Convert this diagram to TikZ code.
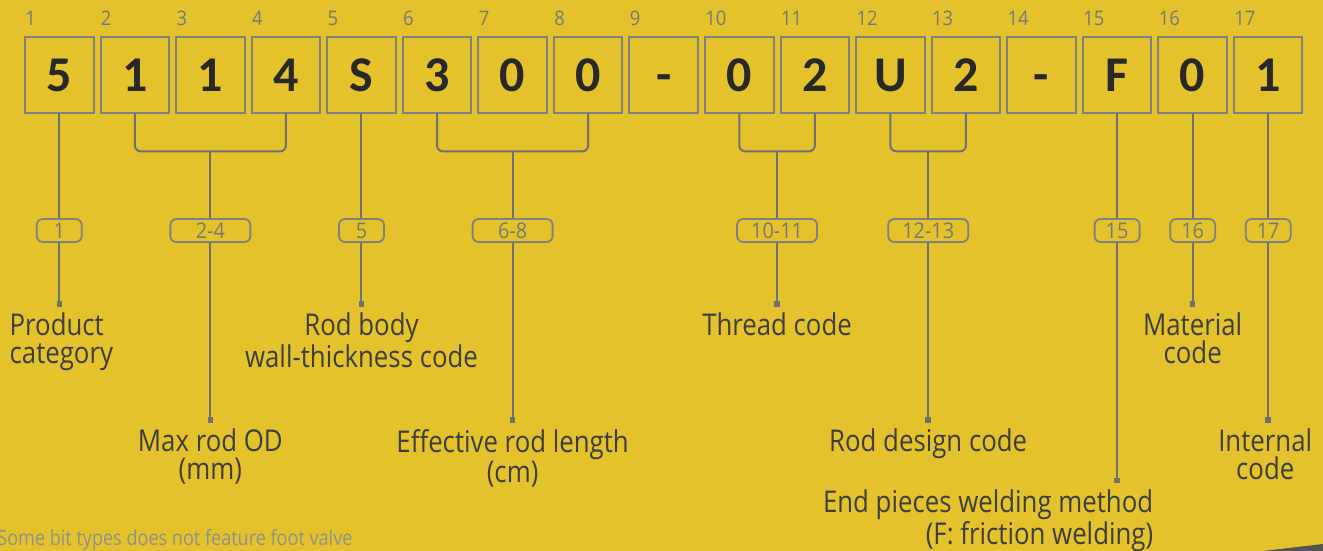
\documentclass[tikz,border=0pt]{standalone}
\usepackage{fontspec}
\usepackage{tikz}
\usetikzlibrary{positioning,calc}
\newfontfamily\cellfont{Carlito}
\newfontfamily\capfont[FakeStretch=0.86]{Open Sans}
\newfontfamily\tagfont[FakeStretch=0.92]{Open Sans}
\definecolor{bgyellow}{RGB}{228,194,44}
\definecolor{boxgrey}{RGB}{128,128,128}
\definecolor{linegrey}{RGB}{112,112,112}
\definecolor{softgrey}{RGB}{120,120,120}
\definecolor{notegrey}{RGB}{145,145,140}
\definecolor{ink}{RGB}{62,62,62}
\definecolor{cellink}{RGB}{40,40,40}
\definecolor{wedgegrey}{RGB}{85,85,85}

\begin{document}
\begin{tikzpicture}[x=0.5pt, y=-0.5pt, node distance=3.53pt,
  cell/.style={draw=boxgrey, line width=1pt, minimum width=34.25pt, minimum height=38pt, inner sep=0pt, outer sep=0pt, text height=16.1pt, text depth=0pt, text=cellink, font=\cellfont\bfseries\fontsize{25}{25}\selectfont},
  idx/.style={anchor=south west, inner sep=0pt, yshift=5.75pt, text=softgrey, font=\tagfont\fontsize{10}{10}\selectfont},
  tag/.style={draw=boxgrey, line width=0.9pt, rounded corners=3pt, minimum width=22.5pt, minimum height=11.5pt, inner sep=0pt, text=softgrey, font=\tagfont\fontsize{10.8}{11}\selectfont},
  widetag/.style={tag, minimum width=40pt},
  lead/.style={draw=linegrey, line width=1pt},
  bracket/.style={lead, rounded corners=3pt},
  pinbox/.style={fill=linegrey, minimum size=2.75pt, inner sep=0pt, outer sep=0pt},
  caption/.style={align=center, inner sep=0pt, text=ink, font=\capfont\fontsize{15}{13.7}\selectfont}]
\fill[bgyellow] (0,0) rectangle (1323,551);
\useasboundingbox (0,0) rectangle (1323,551);

% code cells
\node[cell, label={[idx]north west:1}] (b1) at (59.25,75.4) {5};
\node[cell, label={[idx]north west:2}, right=of b1] (b2) {1};
\node[cell, label={[idx]north west:3}, right=of b2] (b3) {1};
\node[cell, label={[idx]north west:4}, right=of b3] (b4) {4};
\node[cell, label={[idx]north west:5}, right=of b4] (b5) {S};
\node[cell, label={[idx]north west:6}, right=of b5] (b6) {3};
\node[cell, label={[idx]north west:7}, right=of b6] (b7) {0};
\node[cell, label={[idx]north west:8}, right=of b7] (b8) {0};
\node[cell, label={[idx]north west:9}, right=of b8] (b9) {-};
\node[cell, label={[idx]north west:10}, right=of b9] (b10) {0};
\node[cell, label={[idx]north west:11}, right=of b10] (b11) {2};
\node[cell, label={[idx]north west:12}, right=of b11] (b12) {U};
\node[cell, label={[idx]north west:13}, right=of b12] (b13) {2};
\node[cell, label={[idx]north west:14}, right=of b13] (b14) {-};
\node[cell, label={[idx]north west:15}, right=of b14] (b15) {F};
\node[cell, label={[idx]north west:16}, right=of b15] (b16) {0};
\node[cell, label={[idx]north west:17}, right=of b16] (b17) {1};

% rows
\coordinate (tagrow) at (0,230.5);
\coordinate (pinhi) at (0,304);
\coordinate (pinlo) at (0,420);
\coordinate (pinbot) at (0,480.5);

% bracket joints
\path ($(b2.south)!.5!(b4.south)$) ++(0,38) coordinate (j24);
\path ($(b6.south)!.5!(b8.south)$) ++(0,38) coordinate (j68);
\path ($(b10.south)!.5!(b11.south)$) ++(0,38) coordinate (j1011);
\path ($(b12.south)!.5!(b13.south)$) ++(0,38) coordinate (j1213);

% position tags
\node[tag] (t1) at (b1 |- tagrow) {1};
\node[widetag] (t24) at (j24 |- tagrow) {2-4};
\node[tag] (t5) at (b5 |- tagrow) {5};
\node[widetag] (t68) at (j68 |- tagrow) {6-8};
\node[widetag] (t1011) at (j1011 |- tagrow) {10-11};
\node[widetag] (t1213) at (j1213 |- tagrow) {12-13};
\node[tag] (t15) at (b15 |- tagrow) {15};
\node[tag] (t16) at (b16 |- tagrow) {16};
\node[tag] (t17) at (b17 |- tagrow) {17};

% end markers
\node[pinbox] (m1) at (t1 |- pinhi) {};
\node[pinbox] (m24) at (t24 |- pinlo) {};
\node[pinbox] (m5) at (t5 |- pinhi) {};
\node[pinbox] (m68) at (t68 |- pinlo) {};
\node[pinbox] (m1011) at (t1011 |- pinhi) {};
\node[pinbox] (m1213) at (t1213 |- pinlo) {};
\node[pinbox] (m15) at (t15 |- pinbot) {};
\node[pinbox] (m16) at (t16 |- pinhi) {};
\node[pinbox] (m17) at (t17 |- pinlo) {};

% captions
\node[caption, below=3pt of m1, anchor=north west, xshift=-25pt, align=left] (c1) {Product\\category};
\node[caption, below=3pt of m24] (c24) {Max rod OD\\(mm)};
\node[caption, below=3pt of m5] (c5) {Rod body\\wall-thickness code};
\node[caption, below=3pt of m68] (c68) {Effective rod length\\(cm)};
\node[caption, below=3pt of m1011] (c1011) {Thread code};
\node[caption, below=3pt of m1213] (c1213) {Rod design code};
\node[caption, below=3pt of m15, anchor=north east, xshift=18.25pt, align=right] (c15) {End pieces welding method\\(F: friction welding)};
\node[caption, below=3pt of m16] (c16) {Material\\code};
\node[caption, below=3pt of m17, xshift=-1.5pt] (c17) {Internal\\code};

% leads
\draw[lead] (b1) -- (t1) -- (m1);
\draw[bracket] (b2.south) |- (j24) -| (b4.south);
\draw[lead] (j24) -- (t24) -- (m24);
\draw[lead] (b5) -- (t5) -- (m5);
\draw[bracket] (b6.south) |- (j68) -| (b8.south);
\draw[lead] (j68) -- (t68) -- (m68);
\draw[bracket] (b10.south) |- (j1011) -| (b11.south);
\draw[lead] (j1011) -- (t1011) -- (m1011);
\draw[bracket] (b12.south) |- (j1213) -| (b13.south);
\draw[lead] (j1213) -- (t1213) -- (m1213);
\draw[lead] (b15) -- (t15) -- (m15);
\draw[lead] (b16) -- (t16) -- (m16);
\draw[lead] (b17) -- (t17) -- (m17);

% footnote and corner
\node[anchor=base west, inner sep=0pt, text=notegrey, font=\capfont\fontsize{10.5}{11}\selectfont] (fn) at (-3,545) {Some bit types does not feature foot valve};
\fill[wedgegrey] (1263,551) -- (1323,544) -- (1323,551) -- cycle;
\end{tikzpicture}
\end{document}
